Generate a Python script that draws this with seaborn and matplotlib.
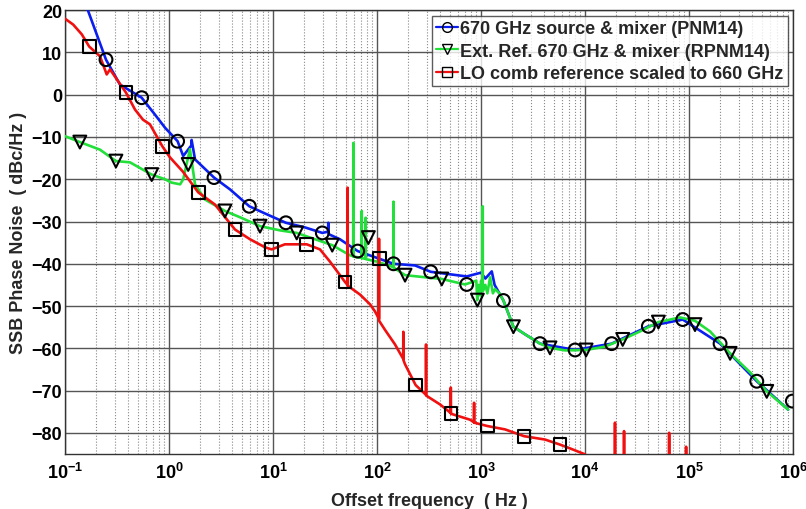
import matplotlib
matplotlib.use("Agg")
import matplotlib.pyplot as plt
from matplotlib.lines import Line2D
from matplotlib.ticker import LogLocator, MultipleLocator, NullFormatter
import seaborn as sns
import pandas as pd

# 670 GHz source & mixer (PNM14) - trace
pnm_freq = [0.166, 0.248, 0.338, 0.546, 0.733, 0.916, 1.21, 1.37, 1.64, 1.65, 1.78,
            2.71, 3.86, 5.92, 8.37, 13.3, 20.3, 29.8, 33.8, 34.0, 34.3, 44, 65.2,
            144, 232, 328, 728, 1000, 1100, 1268, 1350, 1641, 2048, 2650, 3690,
            8017, 18030, 40600, 86900, 198600, 447600, 895000]
pnm_db = [20, 8.3, 2.4, -0.7, -4.7, -7.8, -11.0, -14.5, -12.0, -10.7, -15.3,
          -19.6, -22.4, -26.4, -28.1, -30.3, -31.4, -32.7, -32.4, -30.3, -33.0, -34.2, -37.0,
          -40.0, -40.4, -41.9, -43.0, -42.1, -43.5, -41.8, -45.0, -48.7, -54.9, -56.7, -58.9,
          -60.4, -58.9, -54.8, -53.2, -58.9, -67.8, -74.5]
# markers
pnm_mk_freq = [0.248, 0.546, 1.21, 2.71, 5.92, 13.3, 29.8, 65.2, 144, 328, 728, 1641,
               3690, 8017, 18030, 40600, 86900, 198600, 447600, 984000]
pnm_mk_db = [8.3, -0.7, -11.0, -19.6, -26.4, -30.3, -32.7, -37.0, -40.0, -41.9, -44.9,
             -48.7, -58.9, -60.4, -58.9, -54.8, -53.2, -58.9, -67.8, -72.5]

# Ext. Ref. 670 GHz & mixer (RPNM14) - trace
rpnm_freq = [0.1, 0.139, 0.217, 0.309, 0.422, 0.682, 0.916, 1.06, 1.28, 1.37, 1.59, 1.78,
             2.22, 3.45, 4.82, 7.5, 11.7, 16.9, 25.4, 37.1, 55, 59.0, 59.2, 59.4,
             71.1, 71.3, 71.5, 77.6, 77.8, 78.0, 100, 143.6, 144, 144.4, 186, 419, 702,
             900, 920, 950, 980, 1000, 1036, 1038, 1040, 1100, 1150, 1222, 1300, 1366,
             1500, 1641, 2048, 2650, 3690, 4600, 6430, 10230, 15560, 23000, 33800,
             50700, 81800, 114000, 159000, 248000, 386000, 558000, 895000]
rpnm_db = [-9.8, -11.2, -13.0, -15.7, -16.0, -18.9, -20.0, -20.8, -21.2, -20.0, -12.9, -21.2,
           -24.8, -27.5, -29.0, -31.1, -32.1, -32.7, -34.2, -35.6, -38.0, -38.2, -11.4, -38.3,
           -38.6, -27.5, -38.7, -38.8, -29.1, -38.9, -39.5, -40.8, -25.3, -40.9, -42.7, -43.6, -44.9,
           -44.0, -48.6, -45.0, -47.5, -44.0, -46.0, -26.4, -46.5, -45.0, -47.0, -43.2, -47.0, -46.0,
           -47.0, -48.7, -54.9, -56.7, -58.9, -59.9, -60.5, -60.4, -59.6, -57.9, -56.0,
           -53.8, -52.7, -53.5, -56.0, -61.2, -65.7, -70.2, -74.5]
rpnm_mk_freq = [0.139, 0.309, 0.682, 1.53, 3.45, 7.5, 16.9, 37.1, 82.6, 186, 419, 922,
                2048, 4600, 10230, 23000, 50700, 114000, 248000, 558000]
rpnm_mk_db = [-11.2, -15.7, -18.9, -16.5, -27.5, -31.1, -32.7, -35.6, -33.8, -42.7, -43.6,
              -48.6, -54.9, -59.9, -60.4, -57.9, -53.8, -54.4, -61.2, -70.2]

# LO comb reference scaled to 660 GHz - trace
lo_freq = [0.1, 0.120, 0.145, 0.171, 0.217, 0.252, 0.271, 0.386, 0.471, 0.562, 0.656,
           0.863, 1.02, 1.36, 1.91, 2.77, 4.31, 6.01, 8.37, 9.7, 13.0, 21.1, 28.3, 35.3,
           49.2, 52.0, 52.2, 52.4, 68.7, 85.7, 95.7, 104.2, 104.5, 104.8, 119, 149,
           178.5, 179, 179.5, 186, 235, 295, 296, 297, 404, 510, 512, 514, 515, 783,
           855, 857, 859, 1151, 1702, 2590, 4120, 5750, 7180, 10000, 12000,
           19300, 19400, 19500, 23600, 23700, 23800, 64100, 64300, 64500,
           93400, 93600, 93800, 100000]
lo_db = [18.0, 16.6, 14.3, 11.4, 9.1, 4.8, 6.0, 0.5, -3.5, -5.9, -7.0,
         -12.2, -14.8, -18.2, -23.1, -26.0, -31.9, -34.2, -36.1, -36.6, -35.4, -35.4, -36.6, -39.5,
         -44.3, -45.0, -22.0, -45.2, -47.3, -49.6, -51.3, -53.0, -34.1, -53.5, -55.6, -59.1,
         -62.5, -56.1, -62.8, -63.8, -68.7, -71.0, -59.1, -71.2, -73.3, -75.3, -69.3, -75.4, -75.5, -76.9,
         -77.5, -72.9, -77.6, -78.4, -79.2, -80.8, -81.6, -82.8, -83.7, -85.1, -90,
         -90, -77.6, -90, -90, -79.6, -90, -90, -80.0, -90,
         -90, -83.3, -90, -90]
lo_mk_freq = [0.171, 0.386, 0.863, 1.91, 4.31, 9.7, 21.1, 49.2, 105, 235, 515, 1151, 2590, 5750]
lo_mk_db = [11.4, 0.5, -12.2, -23.1, -31.9, -36.6, -35.4, -44.3, -38.8, -68.7, -75.5, -78.4,
            -80.8, -82.8]

labels = ["670 GHz source & mixer (PNM14)",
          "Ext. Ref. 670 GHz & mixer (RPNM14)",
          "LO comb reference scaled to 660 GHz"]
colors = ["#0a1ef0", "#22e03a", "#f01010"]
markers = ["o", "v", "s"]

sns.set_theme(style="white")
plt.rcParams["font.family"] = ["Liberation Sans", "DejaVu Sans"]
plt.rcParams["font.weight"] = "bold"
plt.rcParams["mathtext.default"] = "bf"

fig = plt.figure(figsize=(8.06, 5.10), dpi=100)
ax = fig.add_axes([0.0806, 0.108, 0.9034, 0.870])

traces = [(pnm_freq, pnm_db), (rpnm_freq, rpnm_db), (lo_freq, lo_db)]
marks = [(pnm_mk_freq, pnm_mk_db), (rpnm_mk_freq, rpnm_mk_db), (lo_mk_freq, lo_mk_db)]

# red first so blue/green sit on top as in the original
for i in [2, 0, 1]:
    df = pd.DataFrame({"f": traces[i][0], "db": traces[i][1]})
    sns.lineplot(data=df, x="f", y="db", ax=ax, color=colors[i], linewidth=1.9,
                 estimator=None, sort=False, zorder=3 + i * 0.1)

for i in range(3):
    dm = pd.DataFrame({"f": marks[i][0], "db": marks[i][1]})
    sns.scatterplot(data=dm, x="f", y="db", ax=ax, marker=markers[i], s=85,
                    facecolor="none", edgecolor="black", linewidth=1.5, zorder=5)

ax.set_xscale("log")
ax.set_xlim(0.1, 1e6)
ax.set_ylim(-85, 20)
ax.yaxis.set_major_locator(MultipleLocator(10))
ax.xaxis.set_major_locator(LogLocator(base=10, numticks=12))
ax.xaxis.set_minor_locator(LogLocator(base=10, subs=range(2, 10), numticks=12))
ax.xaxis.set_minor_formatter(NullFormatter())

ax.grid(True, which="major", color="#555555", linewidth=1.0, linestyle="-")
ax.grid(True, which="minor", axis="x", color="#888888", linewidth=0.8, linestyle=":")
ax.set_axisbelow(True)
for s in ax.spines.values():
    s.set_color("#333333")
    s.set_linewidth(1.0)

ax.tick_params(axis="both", which="major", labelsize=13, direction="in", length=4,
               colors="black")
ax.tick_params(axis="x", which="major", pad=6)
ax.tick_params(axis="y", which="major", pad=2)
ax.tick_params(axis="x", which="minor", direction="in", length=2)
for lab in ax.get_yticklabels():
    lab.set_fontweight("bold")

ax.set_xlabel("Offset frequency  ( Hz )", fontsize=13, fontweight="bold", labelpad=7)
ax.set_ylabel("SSB Phase Noise  ( dBc/Hz )", fontsize=13, fontweight="bold")
ax.yaxis.set_label_coords(-0.052, 0.5)

handles = [Line2D([], [], color=colors[i], marker=markers[i], markerfacecolor="none",
                  markeredgecolor="black", markersize=7, linewidth=1.6) for i in range(3)]
leg = ax.legend(handles, labels, loc="upper right", fontsize=13, frameon=True,
                fancybox=False, edgecolor="#333333", handlelength=1.2, handletextpad=0.1,
                borderpad=0.25, labelspacing=0.3, borderaxespad=0.3)
leg.get_frame().set_linewidth(1.0)
leg.set_zorder(10)

fig.savefig("out.png", dpi=100)
